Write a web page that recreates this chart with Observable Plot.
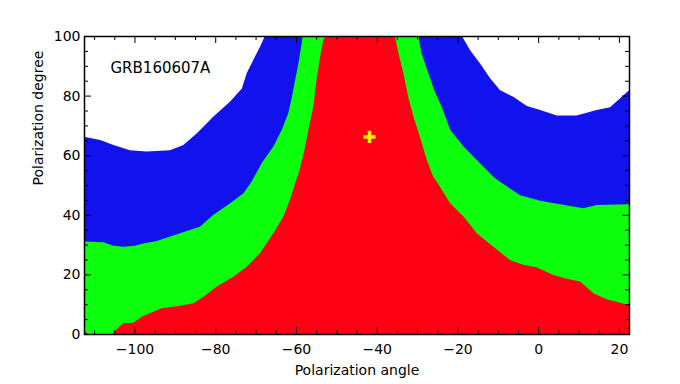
<!DOCTYPE html>
<html>
<head>
<meta charset="utf-8">
<script src="https://cdn.jsdelivr.net/npm/d3@7"></script>
<script src="https://cdn.jsdelivr.net/npm/@observablehq/plot@0.6"></script>
<style>
  html, body { margin: 0; padding: 0; background: #ffffff; }
  #chart { width: 680px; height: 384px; }
</style>
</head>
<body>
<div id="chart"></div>
<script>
// ---- data ----
const title = "GRB160607A";
const xLabel = "Polarization angle";
const yLabel = "Polarization degree";

const blueX = [-112.5, -108.5, -105.2, -101.1, -97, -91.2, -87.9, -84.6, -80.5, -76.3, -73.4, -72.2, -70.6, -68.9, -67.7,
               -18.9, -16.9, -14.4, -11.9, -9.5, -6.2, -2.8, 0.5, 4.6, 9.5, 14.5, 17.8, 20.3, 22.5];
const blueY = [66.2, 65.1, 63.4, 61.7, 61.2, 61.7, 63.4, 67.3, 72.9, 78, 82.4, 87.5, 91.9, 96.4, 100,
               100, 95.3, 90.8, 85.8, 81.9, 79.6, 76.5, 75.2, 73.3, 73.3, 75.2, 76.1, 79.1, 81.8];

const greenX = [-112.5, -107.7, -105.2, -102.8, -99.9, -97.8, -94.5, -88.7, -83.8, -80.5, -76.3, -73.0, -71, -68.5, -65.6,
                -63.5, -61.9, -61.0, -60.2, -59.4, -58.6, -58.3,
                -29.7, -28.9, -27.2, -25.6, -23.9, -21.8, -18.5, -15.2, -11.1, -9.5, -4.5, 0.5, 5.4, 11.2, 14.5, 22.5];
const greenY = [31.0, 30.8, 29.6, 29.3, 29.6, 30.4, 31.2, 33.8, 36.0, 39.9, 43.9, 47.2, 51.1, 57.3, 62.9,
                68.5, 74.1, 79.6, 85.2, 90.8, 97.5, 100,
                100, 94.2, 87.5, 81.3, 76.3, 68.5, 62.9, 58.4, 52.8, 51.1, 46.6, 44.7, 43.5, 42.2, 43.3, 43.5];

const redX = [-112.5, -111.5, -105.6, -102.8, -100.3, -98.2, -93.3, -88.7, -85.4, -82.9, -79.6, -75.5, -72.2, -68.9,
              -65.6, -63.1, -61.5, -60.2, -59.2, -58.0, -56.9, -55.7, -54.9, -54.0, -53.2, -52.6,
              -35.5, -34.6, -33.4, -32.2, -30.9, -29.3, -27.6, -26, -25.1, -21.8, -18.5, -15.2, -11.1, -7.0, -3.7,
              -0.4, 3.8, 7.1, 10.4, 13.7, 17.0, 20.3, 22.5];
const redY = [1.3, 0, 0, 3.6, 3.8, 5.8, 8.6, 9.5, 10.3, 12.5, 15.9, 19.2, 22.6, 27.1,
              33.8, 39.4, 45.0, 50.6, 54.5, 61.0, 68.5, 76.3, 85.2, 93.1, 98.7, 100,
              100, 94.2, 87.5, 79.6, 72.9, 66.2, 58.4, 52.8, 51.1, 43.9, 39.4, 33.8, 29.3, 24.8, 23.2,
              22.4, 19.8, 18.5, 17.6, 13.7, 11.7, 10.5, 9.7];

const bestX = [-41.9];
const bestY = [66.3];

const xTicks = [-100, -80, -60, -40, -20, 0, 20];
const yTicks = [0, 20, 40, 60, 80, 100];

// ---- build ----
const xDomain = [-112.5, 22.5];
const yDomain = [0, 100];
const width = 680, height = 384;
const mL = 84, mR = 51, mT = 36, mB = 50;
const pxX = (xDomain[1] - xDomain[0]) / (width - mL - mR);
const pxY = (yDomain[1] - yDomain[0]) / (height - mT - mB);

const toRows = (xs, ys) => xs.map((x, i) => ({x, y: ys[i]}));
const blue = toRows(blueX, blueY);
const green = toRows(greenX, greenY);
const red = toRows(redX, redY);
const best = toRows(bestX, bestY);

const xMinor = d3.range(-110, 22.5, 5).filter(v => !xTicks.includes(v));
const yMinor = d3.range(0, 100.1, 5).filter(v => !yTicks.includes(v));

const majLen = 7, minLen = 4;
const tickRules = [
  Plot.ruleX(xTicks, {x: d => d, y1: yDomain[0], y2: yDomain[0] + majLen * pxY, stroke: "black"}),
  Plot.ruleX(xMinor, {x: d => d, y1: yDomain[0], y2: yDomain[0] + minLen * pxY, stroke: "black"}),
  Plot.ruleX(xTicks, {x: d => d, y1: yDomain[1], y2: yDomain[1] - majLen * pxY, stroke: "black"}),
  Plot.ruleX(xMinor, {x: d => d, y1: yDomain[1], y2: yDomain[1] - minLen * pxY, stroke: "black"}),
  Plot.ruleY(yTicks, {y: d => d, x1: xDomain[0], x2: xDomain[0] + majLen * pxX, stroke: "black"}),
  Plot.ruleY(yMinor, {y: d => d, x1: xDomain[0], x2: xDomain[0] + minLen * pxX, stroke: "black"}),
  Plot.ruleY(yTicks, {y: d => d, x1: xDomain[1], x2: xDomain[1] - majLen * pxX, stroke: "black"}),
  Plot.ruleY(yMinor, {y: d => d, x1: xDomain[1], x2: xDomain[1] - minLen * pxX, stroke: "black"})
];

const chart = Plot.plot({
  width, height,
  marginLeft: mL, marginRight: mR, marginTop: mT, marginBottom: mB,
  style: {fontFamily: "DejaVu Sans, sans-serif", fontSize: "14px", background: "white", color: "black"},
  x: {domain: xDomain, ticks: xTicks, tickSize: 0, tickPadding: 10, label: null},
  y: {domain: yDomain, ticks: yTicks, tickSize: 0, tickPadding: 4, label: null},
  marks: [
    Plot.areaY(blue, {x: "x", y: "y", fill: "#1212ee", curve: "linear", clip: true}),
    Plot.areaY(green, {x: "x", y: "y", fill: "#0cff0c", curve: "linear", clip: true}),
    Plot.areaY(red, {x: "x", y: "y", fill: "#ff0014", curve: "linear", clip: true}),
    Plot.dot(best, {x: "x", y: "y", symbol: "plus", r: 4, stroke: "#ffee00", strokeWidth: 3.5}),
    ...tickRules,
    Plot.frame({stroke: "black", strokeWidth: 1.5}),
    Plot.text([title], {frameAnchor: "top-left", dx: 26, dy: 26, textAnchor: "start", fontSize: 15, fill: "black"}),
    Plot.text([xLabel], {frameAnchor: "bottom", dy: 40, fontSize: 14, fill: "black"}),
    Plot.text([yLabel], {frameAnchor: "left", dx: -46, rotate: -90, fontSize: 14, fill: "black"})
  ]
});
document.getElementById("chart").appendChild(chart);
</script>
</body>
</html>
